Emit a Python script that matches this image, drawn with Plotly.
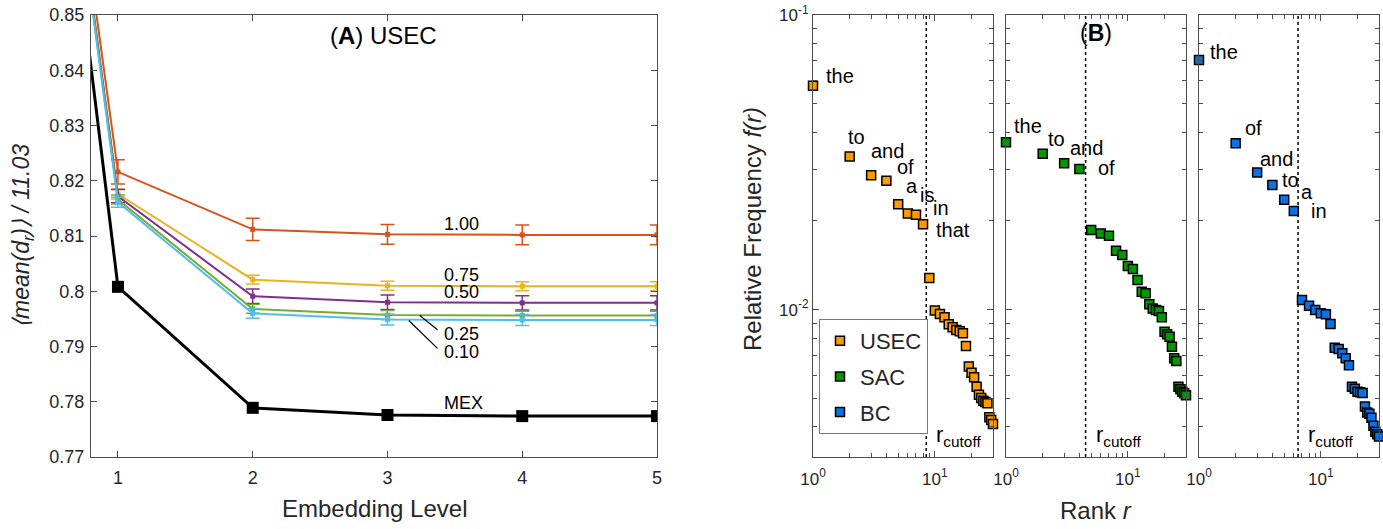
import math
import plotly.graph_objects as go

# ---------------- Panel A data ----------------
levels = [0, 1, 2, 3, 4, 5]
mex = [1.0, 0.8008, 0.7789, 0.7776, 0.7774, 0.7774]
w100 = [1.0, 0.8216, 0.8112, 0.8103, 0.8102, 0.8102]
e100 = [0.0, 0.0022, 0.0020, 0.0018, 0.0018, 0.0018]
w075 = [1.0, 0.8176, 0.8021, 0.8010, 0.8009, 0.8009]
e075 = [0.0, 0.0009, 0.0008, 0.0008, 0.0008, 0.0008]
w050 = [1.0, 0.8172, 0.7991, 0.7980, 0.7979, 0.7979]
e050 = [0.0, 0.0012, 0.0013, 0.0013, 0.0013, 0.0013]
w025 = [1.0, 0.8166, 0.7968, 0.7957, 0.7956, 0.7956]
e025 = [0.0, 0.0008, 0.0008, 0.0008, 0.0008, 0.0008]
w010 = [1.0, 0.8161, 0.7960, 0.7949, 0.7948, 0.7948]
e010 = [0.0, 0.0009, 0.0009, 0.0010, 0.0010, 0.0010]
weight_labels = ["1.00", "0.75", "0.50", "0.25", "0.10"]

# ---------------- Panel B data ----------------
ranks = list(range(1, 31))
usec = [0.0575, 0.0331, 0.0286, 0.0274, 0.0228, 0.0212, 0.0210, 0.0195, 0.0128, 0.00993,
        0.00967, 0.00942, 0.00893, 0.00872, 0.00853, 0.00844, 0.00831, 0.00753, 0.00641, 0.00611,
        0.00590, 0.00548, 0.00514, 0.00501, 0.00491, 0.00486, 0.00481, 0.00431, 0.00422, 0.00409]
sac = [0.0370, 0.0338, 0.0314, 0.0300, 0.01864, 0.01815, 0.01782, 0.01585, 0.01533, 0.01407,
       0.01375, 0.01262, 0.01151, 0.01137, 0.01043, 0.01010, 0.00997, 0.00990, 0.00942, 0.00842,
       0.00825, 0.00810, 0.00748, 0.00684, 0.00670, 0.00548, 0.00537, 0.00527, 0.00520, 0.00512]
bc = [0.0704, 0.0367, 0.0292, 0.0265, 0.0236, 0.0216, 0.01079, 0.01032, 0.00998, 0.00973,
      0.00965, 0.00894, 0.00743, 0.00736, 0.00711, 0.00684, 0.00648, 0.00548, 0.00539, 0.00527,
      0.00524, 0.00521, 0.00469, 0.00448, 0.00443, 0.00430, 0.00404, 0.00385, 0.00378, 0.00371]
usec_words = ["the", "to", "and", "of", "a", "is", "in", "that"]
sac_words = ["the", "to", "and", "of"]
bc_words = ["the", "of", "and", "to", "a", "in"]
cutoffs = [8.5, 4.5, 6.5]
corpora = ["USEC", "SAC", "BC"]

FONT = "Liberation Sans, Arial, Helvetica, sans-serif"
W, H = 1383, 529
AXC = "#4d4d4d"
TXT = "#262626"

def px_x(a, b):
    return [a / W, b / W]

def px_y(top, bottom):
    return [1 - bottom / H, 1 - top / H]

fig = go.Figure()

# ---- Panel A traces ----
colors_a = ["#D95319", "#EDB120", "#7E2F8E", "#77AC30", "#4DBEEE"]
series_a = [(w100, e100), (w075, e075), (w050, e050), (w025, e025), (w010, e010)]
for (vals, errs), col, lab in zip(series_a, colors_a, weight_labels):
    fig.add_trace(go.Scatter(
        x=levels, y=vals, mode="lines+markers", xaxis="x", yaxis="y",
        line=dict(color=col, width=2), marker=dict(symbol="square", size=5, color=col),
        error_y=dict(type="data", array=errs, visible=True, color=col, thickness=1.5, width=7),
        showlegend=False, name=lab))
fig.add_trace(go.Scatter(
    x=levels, y=mex, mode="lines+markers", xaxis="x", yaxis="y",
    line=dict(color="black", width=3), marker=dict(symbol="square", size=12, color="black"),
    showlegend=False, name="MEX"))

# ---- Panel B traces ----
colors_b = ["#FF9900", "#009900", "#0A72E6"]
freqs = [usec, sac, bc]
for i, (fr, col, name) in enumerate(zip(freqs, colors_b, corpora)):
    xa = "x%d" % (i + 2)
    ya = "y%d" % (i + 2)
    fig.add_trace(go.Scatter(
        x=[cutoffs[i], cutoffs[i]], y=[10 ** -2.5, 10 ** -1], mode="lines", xaxis=xa, yaxis=ya,
        line=dict(color="black", width=1.5, dash="dot"), showlegend=False, hoverinfo="skip"))
    fig.add_trace(go.Scatter(
        x=ranks, y=fr, mode="markers", xaxis=xa, yaxis=ya, name=name,
        marker=dict(symbol="square", size=9, color=col, line=dict(color="black", width=1.5)),
        cliponaxis=False, showlegend=True, legendgroup=name))

ac = dict(showgrid=False, zeroline=False, showline=True, linecolor=AXC, linewidth=1.2,
          mirror="ticks", ticks="inside", tickcolor=AXC, automargin=False)

layout = dict(
    width=W, height=H, margin=dict(l=0, r=0, t=0, b=0, autoexpand=False),
    paper_bgcolor="white", plot_bgcolor="white",
    font=dict(family=FONT, color=TXT),
    xaxis=dict(domain=px_x(91, 657), range=[0.8, 5], tickvals=[1, 2, 3, 4, 5], ticklen=6,
               tickfont=dict(family=FONT, color=TXT, size=18), anchor="y", ticklabelstandoff=4, **ac),
    yaxis=dict(domain=px_y(15, 457), range=[0.77, 0.85], dtick=0.01, tick0=0.77, ticklen=6,
               tickfont=dict(family=FONT, color=TXT, size=18), anchor="x", ticklabelstandoff=2, **ac),
    legend=dict(x=819 / W, y=1 - 319 / H, xanchor="left", yanchor="top", bgcolor="white",
                bordercolor="#777777", borderwidth=1, font=dict(family=FONT, size=22, color=TXT),
                tracegroupgap=4, itemwidth=30),
)

bx = [(813, 993), (1006, 1186), (1199, 1379)]
minor_x = [2, 3, 4, 5, 6, 7, 8, 9, 20, 30]
minor_y = [0.004, 0.005, 0.006, 0.007, 0.008, 0.009, 0.02, 0.03, 0.04, 0.05, 0.06, 0.07, 0.08, 0.09]
for i in range(3):
    n = i + 2
    layout["xaxis%d" % n] = dict(
        domain=px_x(*bx[i]), type="log", range=[0, math.log10(30)], anchor="y%d" % n,
        tickvals=[1, 10], ticktext=["10<sup>0</sup>", "10<sup>1</sup>"], ticklen=6,
        tickfont=dict(family=FONT, color=TXT, size=17), ticklabelstandoff=6,
        minor=dict(tickvals=minor_x, ticks="inside", ticklen=3.5, tickcolor=AXC), **ac)
    layout["yaxis%d" % n] = dict(
        domain=px_y(15, 457), type="log", range=[-2.5, -1], anchor="x%d" % n,
        tickvals=[0.01, 0.1], ticktext=["10<sup>-2</sup>", "10<sup>-1</sup>"],
        showticklabels=(i == 0), ticklen=6,
        tickfont=dict(family=FONT, color=TXT, size=17),
        minor=dict(tickvals=minor_y, ticks="inside", ticklen=3.5, tickcolor=AXC), **ac)

fig.update_layout(**layout)

ann = []
# Panel A line labels
label_pos = [(3.55, 0.8122), (3.55, 0.8029), (3.55, 0.7999), (3.55, 0.7923), (3.55, 0.7890)]
for (lx, ly), lab in zip(label_pos, weight_labels):
    ann.append(dict(x=lx, y=ly, xref="x", yref="y", text=lab, showarrow=False,
                    xanchor="center", yanchor="middle",
                    font=dict(family=FONT, size=18, color="black")))
ann.append(dict(x=3.565, y=0.7797, xref="x", yref="y", text="MEX", showarrow=False,
                xanchor="center", yanchor="middle",
                font=dict(family=FONT, size=18, color="black")))
# leader lines
ann.append(dict(x=3.24, y=0.7956, ax=3.382, ay=0.7928, xref="x", yref="y", axref="x", ayref="y",
                text="", showarrow=True, arrowhead=0, arrowwidth=1.2, arrowcolor="black", standoff=0, startstandoff=0))
ann.append(dict(x=3.158, y=0.7947, ax=3.382, ay=0.7894, xref="x", yref="y", axref="x", ayref="y",
                text="", showarrow=True, arrowhead=0, arrowwidth=1.2, arrowcolor="black", standoff=0, startstandoff=0))
ann.append(dict(x=2.972, y=0.8462, xref="x", yref="y", text="(<b>A</b>) USEC", showarrow=False,
                xanchor="center", yanchor="middle",
                font=dict(family=FONT, size=24, color="black")))

# Panel B word labels (pixel offsets from their points)
word_offsets = [
    [(11, 10), (-4, 19), (-2.5, 24), (8.5, 14), (5.7, 18.6), (10.4, 18.3), (15, 7), (11, -6)],
    [(6, 16), (3, 15), (4, 15), (17, 1)],
    [(9, 8), (7, 15), (1, 14), (7.5, 5), (15, 8), (15.4, 0)],
]
words = [usec_words, sac_words, bc_words]
for i in range(3):
    n = i + 2
    for k, wd in enumerate(words[i]):
        dx, dy = word_offsets[i][k]
        ann.append(dict(x=math.log10(ranks[k]), y=math.log10(freqs[i][k]), xref="x%d" % n, yref="y%d" % n,
                        text=wd, showarrow=False, xanchor="left", yanchor="middle", xshift=dx, yshift=dy,
                        font=dict(family=FONT, size=20, color="black")))
    ann.append(dict(x=math.log10(cutoffs[i]), y=-2.43, xref="x%d" % n, yref="y%d" % n,
                    text="r<sub>cutoff</sub>", showarrow=False, xanchor="left", yanchor="middle", xshift=8,
                    font=dict(family=FONT, size=22, color="black")))
ann.append(dict(x=math.log10(5.46), y=-1.061, xref="x3", yref="y3", text="(<b>B</b>)", showarrow=False,
                xanchor="center", yanchor="middle",
                font=dict(family=FONT, size=23, color="black")))

# Axis titles
ann.append(dict(x=374 / W, y=1 - 508 / H, xref="paper", yref="paper", text="Embedding Level", showarrow=False,
                xanchor="center", yanchor="middle",
                font=dict(family=FONT, size=24, color=TXT)))
ann.append(dict(x=22 / W, y=1 - 236 / H, xref="paper", yref="paper", textangle=-90,
                xanchor="center", yanchor="middle",
                text="<i>⟨mean(d<sub>r</sub>)⟩ / 11.03</i>", showarrow=False,
                font=dict(family=FONT, size=23, color=TXT)))
ann.append(dict(x=752 / W, y=1 - 229 / H, xref="paper", yref="paper", textangle=-90,
                xanchor="center", yanchor="middle",
                text="Relative Frequency <i>f(r)</i>", showarrow=False,
                font=dict(family=FONT, size=24, color=TXT)))
ann.append(dict(x=1096 / W, y=1 - 510 / H, xref="paper", yref="paper", text="Rank <i>r</i>", showarrow=False,
                xanchor="center", yanchor="middle",
                font=dict(family=FONT, size=24, color=TXT)))

fig.update_layout(annotations=ann)
fig.write_html("out.html", config={"displayModeBar": False},
               post_script="document.body.style.margin='0px'; document.body.style.padding='0px';")
